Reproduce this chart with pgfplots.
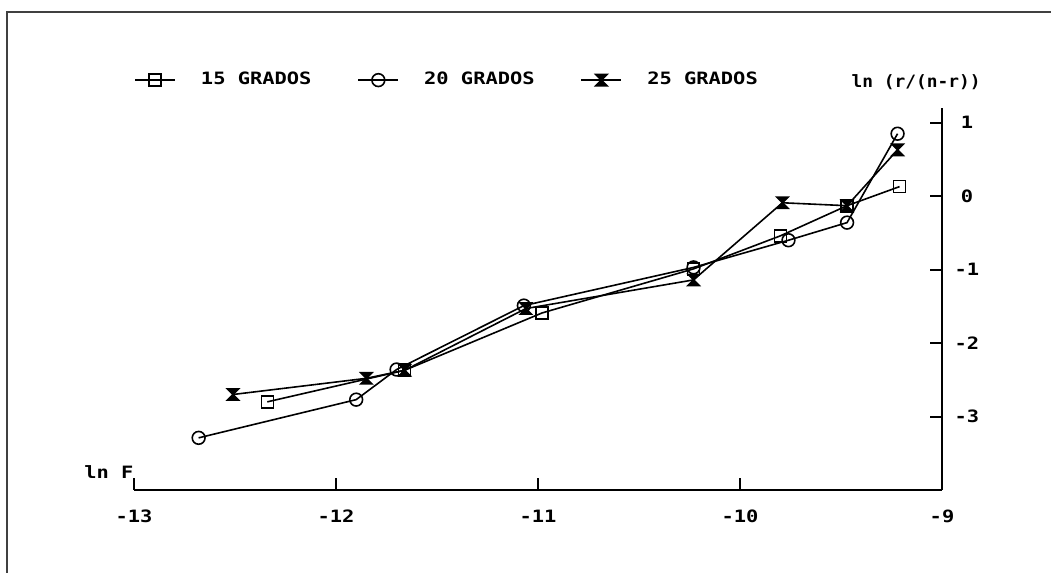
\documentclass[border=0pt]{standalone}
\usepackage{fontspec}
\setmainfont{DejaVu Sans Mono}[FakeStretch=1.2]
\usepackage{pgfplots}
\pgfplotsset{compat=1.18}
\pgfdeclareplotmark{hourglass}{%
  \pgfpathmoveto{\pgfqpoint{-\pgfplotmarksize}{\pgfplotmarksize}}%
  \pgfpathlineto{\pgfqpoint{\pgfplotmarksize}{\pgfplotmarksize}}%
  \pgfpathlineto{\pgfqpoint{-\pgfplotmarksize}{-\pgfplotmarksize}}%
  \pgfpathlineto{\pgfqpoint{\pgfplotmarksize}{-\pgfplotmarksize}}%
  \pgfpathclose
  \pgfusepathqfillstroke
}
\newcommand{\lab}{\bfseries\fontsize{8.5}{10}\selectfont}
\begin{document}
\begin{tikzpicture}
\useasboundingbox (0,0) rectangle (525.5pt,286.5pt);
\draw[line width=1pt, black!75] (3.5pt,0) -- (3.5pt,280.5pt) -- (525.5pt,280.5pt);
\begin{axis}[
  at={(67pt,41.5pt)}, anchor=south west,
  scale only axis, width=404pt, height=191pt,
  xmin=-13, xmax=-9, ymin=-4, ymax=1.2,
  axis x line*=bottom, axis y line*=right,
  axis line style={line width=1.1pt},
  xtick={-13,-12,-11,-10,-9}, ytick={-3,-2,-1,0,1},
  tick align=inside, major tick length=6pt,
  every tick/.style={black, line width=1pt},
  /pgf/number format/assume math mode=true,
  tick label style={font=\lab},
  xticklabel style={anchor=center, yshift=-13pt},
  yticklabel style={anchor=center, xshift=12.5pt},
  xlabel={ln F}, ylabel={\addfontfeatures{FakeStretch=1.05}ln (r/(n-r))},
  every axis x label/.style={at={(axis description cs:-0.031,0.047)}, anchor=center, font=\lab},
  every axis y label/.style={at={(axis description cs:0.968,1.067)}, anchor=center, font=\lab},
  legend columns=3,
  legend style={draw=none, fill=none, inner sep=0pt, font=\lab,
    at={(axis description cs:0,1.073)}, anchor=west,
    nodes={inner sep=0pt},
    /tikz/every odd column/.append style={column sep=12.5pt},
    /tikz/every even column/.append style={column sep=23pt}},
  legend cell align=left,
  legend image code/.code={\draw[mark repeat=2,mark phase=2,#1] plot coordinates {(0pt,0pt) (10pt,0pt) (20pt,0pt)};},
]
\addplot[black, line width=0.8pt, mark=square, mark size=3pt, mark options={solid, fill=none}] coordinates {
(-12.34,-2.80) (-11.66,-2.37) (-10.98,-1.59) (-10.23,-0.99) (-9.80,-0.54) (-9.47,-0.13) (-9.21,0.13)};
\addlegendentry{15 GRADOS}
\addplot[black, line width=0.8pt, mark=o, mark size=3.2pt, mark options={solid, fill=none}] coordinates {
(-12.68,-3.29) (-11.90,-2.77) (-11.70,-2.36) (-11.07,-1.49) (-10.23,-0.97) (-9.76,-0.60) (-9.47,-0.36) (-9.22,0.85)};
\addlegendentry{20 GRADOS}
\addplot[black, line width=0.8pt, mark=hourglass, mark size=2.8pt, mark options={solid, fill=black}] coordinates {
(-12.51,-2.70) (-11.85,-2.48) (-11.66,-2.37) (-11.06,-1.53) (-10.23,-1.14) (-9.79,-0.09) (-9.47,-0.13) (-9.22,0.63)};
\addlegendentry{25 GRADOS}
\end{axis}
\end{tikzpicture}
\end{document}
